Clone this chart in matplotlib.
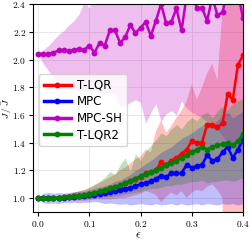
import matplotlib
matplotlib.use("Agg")
import matplotlib.pyplot as plt
import numpy as np
from matplotlib.ticker import FuncFormatter

# =============================================================================
# Data
# =============================================================================
eps = np.round(np.arange(0, 0.401, 0.01), 2)

tlqr = [1.0, 1.0, 1.0, 1.0, 1.0, 1.005, 1.01, 1.012, 1.017, 1.02,
        1.028, 1.035, 1.045, 1.055, 1.07, 1.08, 1.09, 1.11, 1.12, 1.14,
        1.15, 1.18, 1.19, 1.20, 1.26, 1.24, 1.27, 1.29, 1.32, 1.35,
        1.41, 1.40, 1.40, 1.53, 1.53, 1.51, 1.54, 1.75, 1.71, 1.96, 2.03]
tlqr_lo = [1.0, 0.995, 0.99, 0.99, 0.985, 0.985, 0.985, 0.98, 0.98, 0.98,
           0.985, 0.99, 0.99, 0.99, 0.99, 0.995, 1.0, 1.0, 1.01, 1.02,
           1.03, 1.05, 1.04, 1.02, 0.97, 1.01, 1.04, 1.02, 1.05, 1.0,
           1.04, 1.06, 1.05, 1.08, 1.1, 1.06, 1.0, -3.0, -3.0, -2.5, -2.0]
tlqr_hi = [1.0, 1.005, 1.01, 1.012, 1.015, 1.02, 1.03, 1.04, 1.05, 1.06,
           1.07, 1.09, 1.11, 1.13, 1.15, 1.17, 1.2, 1.22, 1.25, 1.28,
           1.30, 1.35, 1.33, 1.48, 1.56, 1.47, 1.52, 1.58, 1.63, 1.70,
           1.82, 1.71, 1.80, 1.90, 1.97, 1.85, 2.36, 8.0, 8.0, 7.0, 6.0]

mpc = [1.0, 1.0, 1.0, 1.0, 1.0, 1.003, 1.006, 1.008, 1.012, 1.015,
       1.02, 1.025, 1.03, 1.04, 1.045, 1.05, 1.06, 1.065, 1.075, 1.085,
       1.10, 1.11, 1.12, 1.14, 1.16, 1.15, 1.18, 1.18, 1.18, 1.24,
       1.22, 1.23, 1.24, 1.31, 1.27, 1.28, 1.33, 1.37, 1.29, 1.35, 1.42]
mpc_lo = [1.0, 0.965, 0.96, 0.965, 0.96, 0.97, 0.965, 0.97, 0.965, 0.97,
          0.97, 0.975, 0.97, 0.96, 0.965, 0.96, 0.955, 0.96, 0.95, 0.955,
          0.96, 0.955, 0.95, 0.96, 0.95, 0.955, 0.96, 0.95, 0.96, 0.95,
          0.955, 0.96, 0.95, 0.96, 0.955, 0.95, 0.96, 0.955, 0.96, 0.95, 0.96]
mpc_hi = [1.0, 1.035, 1.04, 1.035, 1.04, 1.035, 1.04, 1.045, 1.05, 1.05,
          1.06, 1.07, 1.08, 1.09, 1.10, 1.12, 1.13, 1.15, 1.17, 1.20,
          1.22, 1.25, 1.27, 1.30, 1.33, 1.35, 1.37, 1.40, 1.43, 1.45,
          1.47, 1.50, 1.52, 1.55, 1.53, 1.56, 1.60, 1.62, 1.58, 1.60, 1.63]

mpcsh = [2.04, 2.04, 2.04, 2.05, 2.065, 2.068, 2.06, 2.07, 2.075, 2.07,
         2.10, 2.05, 2.12, 2.10, 2.21, 2.21, 2.12, 2.16, 2.25, 2.19,
         2.23, 2.27, 2.17, 2.28, 2.40, 2.26, 2.27, 2.37, 2.21, 2.46,
         2.48, 2.37, 2.37, 2.28, 2.45, 2.32, 2.34, 2.50, 2.52, 2.48, 2.30]
mpcsh_lo = [2.04, 1.97, 1.92, 1.87, 1.83, 1.80, 1.79, 1.78, 1.78, 1.77,
            1.77, 1.77, 1.76, 1.76, 1.76, 1.76, 1.66, 1.67, 1.69, 1.71,
            1.69, 1.54, 1.62, 1.68, 1.55, 1.61, 1.63, 1.60, 1.70, 1.65,
            1.62, 1.60, 1.58, 1.55, 1.50, 1.50, 1.45, 1.40, 1.40, 1.35, 1.30]
mpcsh_hi = [2.04, 2.07, 2.10, 2.14, 2.18, 2.21, 2.25, 2.28, 2.33, 2.42,
            2.37, 2.50, 2.55, 2.60, 2.62, 2.65, 2.68, 2.70, 2.72, 2.75,
            2.78, 2.80, 2.82, 2.85, 2.88, 2.90, 2.92, 2.95, 2.98, 3.0,
            3.0, 3.0, 3.0, 3.0, 3.0, 3.0, 3.0, 3.0, 3.0, 3.0, 3.0]

tlqr2 = [1.0, 1.0, 1.0, 1.0, 1.002, 1.005, 1.008, 1.012, 1.017, 1.023,
         1.03, 1.04, 1.05, 1.06, 1.07, 1.08, 1.095, 1.11, 1.125, 1.14,
         1.16, 1.175, 1.19, 1.20, 1.22, 1.24, 1.255, 1.27, 1.29, 1.31,
         1.33, 1.35, 1.37, 1.35, 1.37, 1.38, 1.39, 1.40, 1.38, 1.41, 1.46]
tlqr2_lo = [1.0, 0.995, 0.995, 0.99, 0.99, 0.99, 0.99, 0.99, 0.995, 0.995,
            1.0, 1.0, 1.005, 1.01, 1.01, 1.015, 1.02, 1.03, 1.035, 1.04,
            1.05, 1.06, 1.07, 1.07, 1.08, 1.09, 1.09, 1.10, 1.10, 1.11,
            1.12, 1.12, 1.13, 1.11, 1.12, 1.12, 1.13, 1.13, 1.12, 1.13, 1.15]
tlqr2_hi = [1.0, 1.005, 1.01, 1.015, 1.02, 1.025, 1.03, 1.04, 1.05, 1.06,
            1.08, 1.10, 1.12, 1.15, 1.19, 1.17, 1.24, 1.29, 1.19, 1.32,
            1.27, 1.34, 1.38, 1.42, 1.47, 1.45, 1.50, 1.53, 1.50, 1.55,
            1.58, 1.56, 1.60, 1.62, 1.58, 1.63, 1.66, 1.64, 1.68, 1.70, 1.72]

series = [("T-LQR", tlqr, tlqr_lo, tlqr_hi, "r"),
          ("MPC", mpc, mpc_lo, mpc_hi, "b"),
          ("MPC-SH", mpcsh, mpcsh_lo, mpcsh_hi, "m"),
          ("T-LQR2", tlqr2, tlqr2_lo, tlqr2_hi, "g")]

# =============================================================================
# Plot
# =============================================================================
plt.rcParams['mathtext.fontset'] = 'cm'

fig, ax = plt.subplots(figsize=(2.5, 2.4), dpi=100)
fig.subplots_adjust(left=0.132, right=0.972, top=0.983, bottom=0.117)

for name, mean, lo, hi, c in series:
    ax.fill_between(eps, lo, hi, color=c, alpha=0.25, lw=0)

for name, mean, lo, hi, c in series:
    ax.plot(eps, mean, color=c, lw=1.8, marker='o', ms=3.2, label=name)

ax.set_xlim(-0.01, 0.4)
ax.set_ylim(0.9, 2.4)
ax.set_xticks([0.0, 0.1, 0.2, 0.3, 0.4])
ax.set_yticks([1.0, 1.2, 1.4, 1.6, 1.8, 2.0, 2.2, 2.4])
fmt = FuncFormatter(lambda v, p: r'$%.1f$' % v)
ax.xaxis.set_major_formatter(fmt)
ax.yaxis.set_major_formatter(fmt)
ax.tick_params(labelsize=6.8, length=3, width=0.8, pad=2)
ax.grid(True, color='#e6e6e6', lw=0.7)
ax.set_axisbelow(True)

ax.set_xlabel(r'$\epsilon$', fontsize=9, va='center')
ax.set_ylabel(r'$J\,/\,\bar{J}$', fontsize=7, va='center')
ax.xaxis.set_label_coords(0.5, -0.108)
ax.yaxis.set_label_coords(-0.125, 0.5)

leg = ax.legend(loc='center left', bbox_to_anchor=(0.0, 0.49), fontsize=8.5,
                handlelength=2.3, labelspacing=0.3, borderpad=0.4,
                handletextpad=0.5)
for line in leg.get_lines():
    line.set_linewidth(2.5)

fig.savefig("out.png", dpi=100)
